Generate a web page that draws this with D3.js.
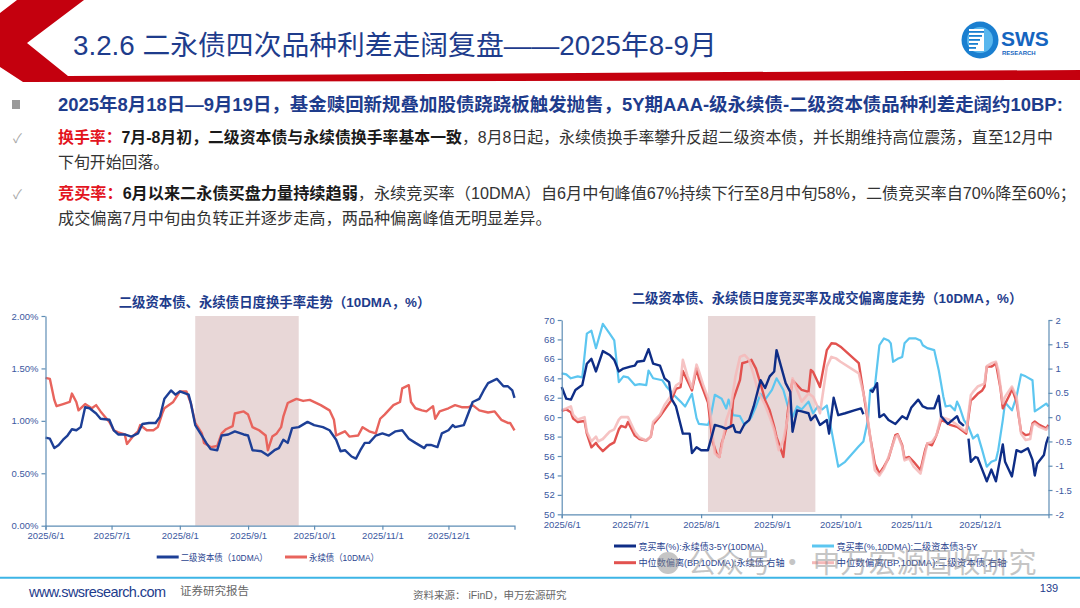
<!DOCTYPE html>
<html>
<head>
<meta charset="utf-8">
<script src="https://cdn.jsdelivr.net/npm/d3@7"></script>
<style>
  html, body { margin: 0; padding: 0; background: #fff; }
  svg { display: block; font-family: "Liberation Sans", "Noto Sans CJK SC", sans-serif; }
</style>
</head>
<body>
<svg id="page" width="1080" height="608"></svg>
<script>
// ---- data (dates are 2025, "M/D") ----
const turnoverNames = ["二级资本债（10DMA）", "永续债（10DMA）"];
const turnoverTicks = [0, 0.5, 1, 1.5, 2];

// 二级资本债 换手率 (10DMA, %)
const turnoverTier2 = [
  ["6/1",0.84],["6/3",0.83],["6/5",0.74],["6/7",0.77],["6/9",0.82],["6/11",0.86],["6/13",0.92],["6/15",0.91],
  ["6/17",0.94],["6/19",1.13],["6/21",1.12],["6/24",1.07],["6/26",1.02],["6/30",1.01],["7/2",0.91],["7/4",0.87],
  ["7/7",0.87],["7/10",0.85],["7/13",0.88],["7/15",0.97],["7/18",0.98],["7/21",0.98],["7/23",1.04],["7/25",1.21],
  ["7/28",1.29],["7/30",1.25],["8/1",1.28],["8/5",1.25],["8/6",1.17],["8/8",0.96],["8/11",0.86],["8/13",0.79],
  ["8/15",0.73],["8/18",0.72],["8/20",0.86],["8/23",0.87],["8/26",0.90],["8/30",0.87],["9/1",0.86],["9/3",0.72],
  ["9/7",0.71],["9/10",0.67],["9/13",0.72],["9/15",0.74],["9/17",0.82],["9/19",0.79],["9/21",0.93],["9/24",0.94],
  ["9/28",0.99],["10/1",0.96],["10/5",0.94],["10/8",0.91],["10/11",0.82],["10/13",0.71],["10/15",0.72],["10/18",0.66],
  ["10/20",0.64],["10/22",0.72],["10/24",0.79],["10/26",0.79],["10/29",0.86],["11/1",0.88],["11/4",0.86],["11/7",0.90],
  ["11/10",0.91],["11/13",0.83],["11/16",0.79],["11/20",0.74],["11/21",0.77],["11/23",0.77],["11/26",0.75],["11/28",0.88],
  ["12/1",0.91],["12/3",0.96],["12/4",0.94],["12/8",0.96],["12/10",1.07],["12/12",1.18],["12/15",1.21],["12/17",1.29],
  ["12/19",1.36],["12/23",1.40],["12/26",1.33],["12/28",1.33],["12/30",1.29],["12/31",1.22]
];

// 永续债 换手率 (10DMA, %)
const turnoverPerp = [
  ["6/1",1.41],["6/3",1.40],["6/5",1.20],["6/6",1.14],["6/9",1.16],["6/12",1.18],["6/13",1.26],["6/15",1.18],
  ["6/16",1.10],["6/19",1.16],["6/22",1.12],["6/24",1.15],["6/26",1.09],["6/28",1.04],["6/30",0.99],["7/2",0.91],
  ["7/4",0.89],["7/7",0.87],["7/8",0.78],["7/11",0.86],["7/13",0.90],["7/14",0.96],["7/17",0.91],["7/20",0.91],
  ["7/22",0.94],["7/24",1.07],["7/25",1.12],["7/29",1.18],["8/1",1.28],["8/4",1.28],["8/6",1.17],["8/8",0.98],
  ["8/11",0.88],["8/12",0.79],["8/15",0.75],["8/18",0.76],["8/20",0.88],["8/22",0.92],["8/25",0.95],["8/26",1.07],
  ["8/30",1.09],["9/1",1.06],["9/3",0.94],["9/6",0.91],["9/9",0.86],["9/10",0.72],["9/12",0.85],["9/14",0.88],
  ["9/16",0.94],["9/17",1.04],["9/19",1.17],["9/21",1.19],["9/23",1.21],["9/26",1.19],["9/29",1.20],["10/4",1.15],
  ["10/8",1.10],["10/10",1.01],["10/11",0.86],["10/13",0.88],["10/15",0.90],["10/17",0.85],["10/21",0.86],["10/23",0.94],
  ["10/26",0.90],["10/29",0.88],["10/31",1.02],["11/2",1.06],["11/6",1.15],["11/9",1.18],["11/10",1.31],["11/13",1.34],
  ["11/14",1.18],["11/16",1.12],["11/19",1.10],["11/21",1.09],["11/24",1.14],["11/25",1.02],["11/27",1.09],["12/1",1.12],
  ["12/4",1.15],["12/7",1.13],["12/10",1.13],["12/12",1.15],["12/15",1.10],["12/19",1.08],["12/22",1.09],["12/25",1.01],
  ["12/28",0.98],["12/29",0.98],["12/31",0.91]
];

const bidNames = [
  "竞买率(%):永续债3-5Y(10DMA)", "竞买率(%,10DMA):二级资本债3-5Y",
  "中位数偏离(BP,10DMA):永续债,右轴", "中位数偏离(BP,10DMA):二级资本债,右轴"
];
const bidTicks = d3.range(50, 71, 2);
const devTicks = [-2, -1.5, -1, -0.5, 0, 0.5, 1, 1.5, 2];

// 竞买率 永续债3-5Y (left axis, %)
const bidPerp = [
  ["6/1",63.1],["6/3",61.9],["6/5",61.8],["6/7",62.8],["6/10",63.3],["6/12",65.5],["6/14",66.0],["6/16",64.7],
  ["6/19",66.8],["6/22",66.4],["6/24",65.9],["6/26",64.7],["6/28",65.0],["7/1",65.2],["7/3",65.3],["7/4",65.7],
  ["7/7",65.8],["7/9",67.0],["7/11",65.5],["7/14",65.3],["7/16",64.0],["7/18",63.6],["7/19",61.9],["7/21",61.1],
  ["7/24",58.3],["7/27",58.3],["7/28",56.3],["7/30",56.9],["8/1",56.6],["8/4",56.6],["8/6",58.3],["8/7",59.2],
  ["8/10",59.0],["8/12",58.8],["8/15",59.2],["8/16",58.5],["8/18",58.4],["8/20",59.3],["8/22",59.7],["8/24",61.1],
  ["8/27",63.8],["8/29",63.0],["8/31",64.2],["9/2",64.7],["9/3",66.9],["9/5",65.2],["9/7",63.5],["9/9",62.6],
  ["9/10",58.5],["9/12",60.7],["9/14",60.6],["9/17",60.4],["9/18",59.7],["9/20",60.2],["9/22",59.2],["9/25",59.7],
  ["9/26",58.3],["9/28",62.0],["9/30",60.2],["10/3",60.4],["10/7",60.7],["10/10",60.9],["10/11",60.3],["10/12",null],
  ["10/14",62.8],["10/15",62.6],["10/17",63.5],["10/18",60.0],["10/20",60.3],["10/22",59.7],["10/25",59.3],["10/28",60.1],
  ["10/30",59.8],["11/1",61.0],["11/4",61.8],["11/6",61.1],["11/8",60.9],["11/11",60.9],["11/13",62.2],["11/14",60.1],
  ["11/17",59.3],["11/21",60.1],["11/22",59.5],["11/24",59.1],["11/25",null],["11/26",57.8],["11/27",55.4],["11/29",55.9],
  ["11/30",55.8],["12/2",54.6],["12/4",53.4],["12/6",54.6],["12/8",53.4],["12/11",57.2],["12/12",55.4],["12/15",53.9],
  ["12/17",56.6],["12/19",56.4],["12/22",56.8],["12/24",55.6],["12/25",54.0],["12/26",55.2],["12/29",56.1],["12/30",57.3],
  ["12/31",58.0]
];

// 竞买率 二级资本债3-5Y (left axis, %)
const bidTier2 = [
  ["6/1",64.5],["6/3",64.4],["6/5",64.0],["6/8",64.2],["6/10",64.1],["6/12",68.6],["6/14",68.9],["6/16",67.1],
  ["6/19",69.6],["6/22",68.6],["6/24",67.9],["6/26",63.6],["6/28",64.2],["6/30",64.1],["7/3",63.3],["7/5",63.4],
  ["7/8",63.3],["7/9",64.8],["7/11",64.0],["7/15",63.8],["7/17",63.1],["7/20",62.3],["7/23",61.6],["7/25",61.1],
  ["7/28",62.4],["7/30",59.9],["7/31",59.3],["8/4",59.2],["8/5",59.8],["8/7",62.3],["8/10",61.9],["8/12",60.9],
  ["8/13",61.8],["8/15",60.2],["8/18",60.1],["8/20",59.2],["8/23",60.0],["8/25",61.1],["8/27",62.4],["8/29",61.8],
  ["9/1",62.8],["9/3",64.0],["9/6",62.8],["9/8",61.1],["9/10",60.0],["9/12",61.1],["9/14",60.8],["9/17",61.6],
  ["9/19",60.4],["9/21",61.1],["9/23",60.8],["9/25",61.2],["9/30",54.9],["10/3",55.4],["10/9",57.0],["10/11",57.5],
  ["10/13",59.7],["10/14",62.8],["10/16",63.1],["10/18",67.4],["10/20",68.1],["10/22",67.9],["10/23",67.6],["10/24",65.7],
  ["10/26",66.0],["10/28",66.2],["10/29",67.6],["10/31",68.1],["11/3",68.1],["11/5",67.9],["11/6",67.4],["11/8",67.1],
  ["11/11",66.9],["11/13",64.8],["11/15",62.1],["11/16",61.1],["11/18",61.2],["11/20",60.7],["11/21",61.6],["11/22",61.1],
  ["11/24",59.7],["11/26",59.0],["11/28",57.8],["11/30",58.2],["12/2",56.6],["12/4",54.9],["12/6",55.4],["12/8",55.6],
  ["12/9",56.6],["12/11",59.7],["12/12",61.5],["12/15",60.7],["12/17",62.1],["12/19",64.4],["12/21",64.2],["12/24",63.8],
  ["12/25",60.6],["12/27",60.9],["12/30",61.4],["12/31",61.1]
];

// 中位数偏离 永续债 (right axis, BP)
const devPerp = [
  ["6/1",0.13],["6/3",0.16],["6/5",0.10],["6/6",-0.03],["6/8",-0.10],["6/11",-0.08],["6/12",-0.34],["6/14",-0.62],
  ["6/16",-0.53],["6/17",-0.60],["6/19",-0.70],["6/22",-0.57],["6/24",-0.52],["6/26",-0.25],["6/27",-0.18],["6/29",-0.21],
  ["6/30",-0.10],["7/3",-0.38],["7/5",-0.45],["7/8",-0.48],["7/10",-0.40],["7/11",-0.15],["7/14",0.02],["7/16",0.15],
  ["7/19",0.35],["7/21",0.58],["7/23",0.62],["7/24",0.95],["7/26",0.75],["7/28",0.55],["7/30",1.00],["7/31",0.80],
  ["8/2",0.55],["8/4",0.30],["8/5",-0.10],["8/6",-0.50],["8/8",-0.78],["8/9",-0.82],["8/10",-0.54],["8/12",-0.23],
  ["8/14",-0.20],["8/15",0.35],["8/18",0.76],["8/19",1.11],["8/21",1.14],["8/23",1.18],["8/25",1.00],["8/27",0.69],
  ["8/29",0.35],["8/31",0.14],["9/2",-0.20],["9/3",-0.41],["9/5",-0.68],["9/6",-0.82],["9/8",0.14],["9/10",0.76],
  ["9/12",0.66],["9/14",0.56],["9/17",0.52],["9/18",0.97],["9/19",0.93],["9/21",0.73],["9/22",0.62],["9/25",1.38],
  ["9/27",1.52],["9/29",1.51],["10/1",1.45],["10/9",1.11],["10/12",0.21],["10/14",-0.41],["10/16",-0.96],["10/18",-1.16],
  ["10/20",-1.02],["10/22",-0.85],["10/25",-0.37],["10/26",-0.35],["10/28",-0.58],["10/29",-0.85],["10/31",-0.82],["11/2",-0.92],
  ["11/5",-1.09],["11/7",-0.68],["11/8",-0.54],["11/10",-0.58],["11/12",-0.37],["11/14",-0.06],["11/16",-0.10],["11/18",-0.16],
  ["11/21",-0.20],["11/24",-0.30],["11/25",-0.34],["11/27",0.35],["11/28",0.38],["11/30",0.48],["12/2",0.55],["12/3",0.63],
  ["12/4",1.04],["12/6",1.04],["12/7",1.07],["12/8",1.11],["12/10",0.59],["12/11",0.18],["12/14",0.46],["12/15",0.59],
  ["12/17",0.32],["12/19",-0.30],["12/21",-0.37],["12/23",-0.35],["12/24",-0.13],["12/25",-0.09],["12/27",-0.16],["12/30",-0.23],
  ["12/31",-0.16]
];

// 中位数偏离 二级资本债 (right axis, BP)
const devTier2 = [
  ["6/1",0.15],["6/3",0.18],["6/5",0.22],["6/6",0.05],["6/8",-0.05],["6/11",0.00],["6/12",-0.30],["6/14",-0.50],
  ["6/16",-0.40],["6/17",-0.50],["6/19",-0.45],["6/22",-0.30],["6/24",-0.25],["6/26",-0.05],["6/27",0.00],["6/29",0.00],
  ["6/30",0.00],["7/3",-0.30],["7/5",-0.42],["7/8",-0.48],["7/10",-0.40],["7/11",-0.10],["7/14",0.05],["7/16",0.25],
  ["7/19",0.45],["7/21",0.65],["7/23",0.72],["7/24",1.18],["7/26",0.85],["7/28",0.60],["7/30",1.08],["7/31",0.95],
  ["8/2",0.65],["8/4",0.40],["8/5",0.10],["8/7",-0.75],["8/9",-0.82],["8/10",-0.61],["8/12",-0.06],["8/14",0.21],
  ["8/16",0.83],["8/18",1.24],["8/20",1.28],["8/22",1.18],["8/24",0.87],["8/26",0.52],["8/29",0.25],["8/31",0.01],
  ["9/2",-0.27],["9/4",-0.68],["9/6",-0.47],["9/8",0.01],["9/10",0.80],["9/12",0.56],["9/14",0.32],["9/17",0.49],
  ["9/19",0.42],["9/21",0.21],["9/22",0.08],["9/25",1.04],["9/27",1.24],["9/29",1.21],["10/1",1.14],["10/9",0.90],
  ["10/12",0.28],["10/14",-0.41],["10/16",-1.09],["10/18",-1.20],["10/20",-1.06],["10/22",-0.82],["10/25",-0.41],["10/26",-0.37],
  ["10/28",-0.61],["10/29",-0.89],["10/31",-0.85],["11/2",-1.02],["11/5",-1.16],["11/7",-0.75],["11/8",-0.54],["11/10",-0.51],
  ["11/12",-0.37],["11/14",0.01],["11/16",-0.03],["11/18",-0.06],["11/21",-0.16],["11/24",-0.27],["11/25",-0.30],["11/27",0.45],
  ["11/28",0.52],["11/30",0.63],["12/3",0.69],["12/4",1.05],["12/6",1.11],["12/8",1.14],["12/9",0.97],["12/11",0.28],
  ["12/12",0.42],["12/15",0.63],["12/17",0.42],["12/19",-0.34],["12/21",-0.47],["12/23",-0.45],["12/24",-0.16],["12/25",-0.13],
  ["12/27",-0.20],["12/30",-0.26],["12/31",-0.20]
];

const monthLabels = ["6/1", "7/1", "8/1", "9/1", "10/1", "11/1", "12/1"];
const turnoverShade = ["8/8", "9/24"];
const bidShade = ["8/4", "9/20"];

// ---- helpers ----
const parseDay = s => d3.timeParse("%Y/%m/%d")("2025/" + s);
const fmtDay = d3.timeFormat("%Y/%-m/%-d");
const xDomain = [parseDay("6/1"), parseDay("12/31")];
const monthTicks = monthLabels.map(parseDay);
const rows = arr => arr.map(([d, v]) => ({ date: parseDay(d), value: v }));

const NAVY = "#1E3C8C";
const AXIS = "#5E8DB5";
const TICKTXT = "#3B58A0";

const svg = d3.select("#page");

// fit a text element to a target width by scaling its font size
function fitWidth(sel, target) {
  const fs = parseFloat(sel.attr("font-size"));
  const w = sel.node().getComputedTextLength();
  const nfs = fs * target / w;
  sel.attr("font-size", nfs.toFixed(2));
  return nfs;
}

function styleAxis(g) {
  g.select(".domain").attr("stroke", AXIS).attr("stroke-width", 1.2);
  g.selectAll(".tick line").attr("stroke", AXIS).attr("stroke-width", 1.2);
  g.selectAll(".tick text")
    .attr("fill", TICKTXT)
    .attr("font-size", 9.5)
    .attr("font-family", "Liberation Sans, sans-serif");
}

// ---- header ----
const header = svg.append("g");
header.append("path")
  .attr("d", d3.line()([[17,0],[84,0],[27,43],[68,76],[1080,70],[1080,80],[23,82],[0,67],[0,13]]) + "Z")
  .attr("fill", "#C4000E");

const title = header.append("text")
  .attr("x", 73).attr("y", 55)
  .attr("font-size", 26)
  .attr("fill", NAVY)
  .text("3.2.6 二永债四次品种利差走阔复盘——2025年8-9月");
fitWidth(title, 644);

// SWS logo
const logo = header.append("g");
logo.append("circle").attr("cx", 980).attr("cy", 40).attr("r", 18.5).attr("fill", "#1A7FD0");
logo.append("circle").attr("cx", 980).attr("cy", 40).attr("r", 13).attr("fill", "#59B7EE");
logo.append("rect").attr("x", 969).attr("y", 29).attr("width", 15).attr("height", 22).attr("fill", "#fff");
d3.range(5).forEach(i => {
  logo.append("rect").attr("x", 969).attr("y", 31 + i * 4).attr("width", 15 - i * 2).attr("height", 1.8).attr("fill", "#1A7FD0");
});
logo.append("text").attr("x", 1001).attr("y", 46).attr("font-size", 21).attr("font-weight", "bold")
  .attr("fill", "#1565C0").attr("font-family", "Liberation Sans, sans-serif").text("SWS");
logo.append("text").attr("x", 1002).attr("y", 54.5).attr("font-size", 6).attr("font-weight", "bold")
  .attr("fill", "#1565C0").attr("font-family", "Liberation Sans, sans-serif").text("RESEARCH");

// ---- summary text ----
const body = svg.append("g");
body.append("rect").attr("x", 12).attr("y", 100).attr("width", 8).attr("height", 9).attr("fill", "#9A9A9A");

const line1 = body.append("text").attr("x", 58).attr("y", 111)
  .attr("font-size", 18).attr("font-weight", "bold").attr("fill", NAVY)
  .text("2025年8月18日—9月19日，基金赎回新规叠加股债跷跷板触发抛售，5Y期AAA-级永续债-二级资本债品种利差走阔约10BP:");
fitWidth(line1, 1006);

function richLine(y, parts) {
  const t = body.append("text").attr("x", 58).attr("y", y).attr("font-size", 16);
  parts.forEach(p => {
    t.append("tspan").attr("fill", p.color).attr("font-weight", p.bold ? "bold" : "normal").text(p.text);
  });
  return t;
}

["✓"].forEach(() => {
  body.append("text").attr("x", 13).attr("y", 143).attr("font-size", 13).attr("fill", "#A8A8A8").text("✓");
  body.append("text").attr("x", 13).attr("y", 199).attr("font-size", 13).attr("fill", "#A8A8A8").text("✓");
});

const l2 = richLine(143, [
  { text: "换手率：", color: "#E3141E", bold: true },
  { text: "7月-8月初，二级资本债与永续债换手率基本一致", color: "#1A1A1A", bold: true },
  { text: "，8月8日起，永续债换手率攀升反超二级资本债，并长期维持高位震荡，直至12月中", color: "#333" }
]);
const fs2 = fitWidth(l2, 996);
richLine(168, [{ text: "下旬开始回落。", color: "#333" }]).attr("font-size", fs2.toFixed(2));

const l4 = richLine(199, [
  { text: "竞买率：", color: "#E3141E", bold: true },
  { text: "6月以来二永债买盘力量持续趋弱", color: "#1A1A1A", bold: true },
  { text: "，永续竞买率（10DMA）自6月中旬峰值67%持续下行至8月中旬58%，二债竞买率自70%降至60%；", color: "#333" }
]);
const fs4 = fitWidth(l4, 1018);
richLine(224, [{ text: "成交偏离7月中旬由负转正并逐步走高，两品种偏离峰值无明显差异。", color: "#333" }]).attr("font-size", fs4.toFixed(2));

// ---- left chart: turnover ----
{
  const g = svg.append("g");
  const x = d3.scaleTime().domain(xDomain).range([45.5, 514.5]);
  const y = d3.scaleLinear().domain([0, 2]).range([525.7, 316]);

  g.append("rect")
    .attr("x", x(parseDay(turnoverShade[0])))
    .attr("width", x(parseDay(turnoverShade[1])) - x(parseDay(turnoverShade[0])))
    .attr("y", y(2)).attr("height", y(0) - y(2))
    .attr("fill", "#E8D7D7");

  const line = d3.line().x(d => x(d.date)).y(d => y(d.value)).defined(d => d.value != null);
  [[turnoverPerp, "#E8645D"], [turnoverTier2, "#1D3F96"]].forEach(([arr, c]) => {
    g.append("path").datum(rows(arr)).attr("d", line)
      .attr("fill", "none").attr("stroke", c).attr("stroke-width", 2.4).attr("stroke-linejoin", "round");
  });

  g.append("g").attr("transform", "translate(45.5,0)")
    .call(d3.axisLeft(y).tickValues(turnoverTicks).tickFormat(d => d.toFixed(2) + "%").tickSize(4).tickSizeOuter(0))
    .call(styleAxis);
  g.append("g").attr("transform", "translate(0,525.7)")
    .call(d3.axisBottom(x).tickValues(monthTicks).tickFormat(fmtDay).tickSize(4).tickSizeOuter(4))
    .call(styleAxis);

  const t = g.append("text").attr("x", 274.5).attr("y", 307).attr("text-anchor", "middle")
    .attr("font-size", 13).attr("font-weight", "bold").attr("fill", NAVY)
    .text("二级资本债、永续债日度换手率走势（10DMA，%）");
  fitWidth(t, 312);

  const legend = [[156.7, "#1D3F96"], [285, "#E8645D"]];
  legend.forEach(([lx, c], i) => {
    g.append("line").attr("x1", lx).attr("x2", lx + 22).attr("y1", 557).attr("y2", 557)
      .attr("stroke", c).attr("stroke-width", 3);
    g.append("text").attr("x", lx + 24).attr("y", 560.5).attr("font-size", 9.5).attr("fill", "#2B4590")
      .attr("textLength", i === 0 ? 87 : 70).attr("lengthAdjust", "spacingAndGlyphs")
      .text(turnoverNames[i]);
  });
}

// ---- right chart: bid ratio & deviation ----
{
  const g = svg.append("g");
  const x = d3.scaleTime().domain(xDomain).range([561.7, 1048.5]);
  const yL = d3.scaleLinear().domain([50, 70]).range([514.3, 320]);
  const yR = d3.scaleLinear().domain([-2, 2]).range([514.3, 320]);

  g.append("rect")
    .attr("x", x(parseDay(bidShade[0])))
    .attr("width", x(parseDay(bidShade[1])) - x(parseDay(bidShade[0])))
    .attr("y", 316).attr("height", 196)
    .attr("fill", "#E8D7D7");

  const lineL = d3.line().x(d => x(d.date)).y(d => yL(d.value)).defined(d => d.value != null);
  const lineR = d3.line().x(d => x(d.date)).y(d => yR(d.value)).defined(d => d.value != null);

  g.append("path").datum(rows(bidTier2)).attr("d", lineL)
    .attr("fill", "none").attr("stroke", "#5CC6F0").attr("stroke-width", 2.2).attr("stroke-linejoin", "round");
  g.append("path").datum(rows(devPerp)).attr("d", lineR)
    .attr("fill", "none").attr("stroke", "#E2524F").attr("stroke-width", 2.4).attr("stroke-linejoin", "round");
  g.append("path").datum(rows(devTier2)).attr("d", lineR)
    .attr("fill", "none").attr("stroke", "#F5B9B9").attr("stroke-opacity", 0.85).attr("stroke-width", 2.6).attr("stroke-linejoin", "round");
  g.append("path").datum(rows(bidPerp)).attr("d", lineL)
    .attr("fill", "none").attr("stroke", "#0E2D86").attr("stroke-width", 2.4).attr("stroke-linejoin", "round");

  g.append("g").attr("transform", "translate(561.7,0)")
    .call(d3.axisLeft(yL).tickValues(bidTicks).tickSize(4).tickSizeOuter(0))
    .call(styleAxis);
  g.append("g").attr("transform", "translate(1048.5,0)")
    .call(d3.axisRight(yR).tickValues(devTicks).tickFormat(d => String(d)).tickSize(4).tickSizeOuter(0))
    .call(styleAxis);
  g.append("g").attr("transform", "translate(0,514.3)")
    .call(d3.axisBottom(x).tickValues(monthTicks).tickFormat(fmtDay).tickSize(4).tickSizeOuter(4))
    .call(styleAxis);

  const t = g.append("text").attr("x", 827).attr("y", 303).attr("text-anchor", "middle")
    .attr("font-size", 13.5).attr("font-weight", "bold").attr("fill", NAVY)
    .text("二级资本债、永续债日度竞买率及成交偏离度走势（10DMA，%）");
  fitWidth(t, 391);

  const items = [
    { x: 614, y: 546, c: "#0E2D86", w: 125 },
    { x: 812, y: 546, c: "#5CC6F0", w: 141 },
    { x: 614, y: 562.7, c: "#E2524F", w: 146 },
    { x: 812, y: 562.7, c: "#F5B9B9", w: 170 }
  ];
  items.forEach((it, i) => {
    g.append("line").attr("x1", it.x).attr("x2", it.x + 22).attr("y1", it.y).attr("y2", it.y)
      .attr("stroke", it.c).attr("stroke-width", 3);
    g.append("text").attr("x", it.x + 24.5).attr("y", it.y + 3.5).attr("font-size", 9.5).attr("fill", "#2B4590")
      .attr("textLength", it.w).attr("lengthAdjust", "spacingAndGlyphs")
      .text(bidNames[i]);
  });
}

// ---- watermark ----
const wm = svg.append("g").attr("opacity", 0.5);
wm.append("circle").attr("cx", 668).attr("cy", 563).attr("r", 11).attr("fill", "#8C8C8C");
wm.append("text").attr("x", 688).attr("y", 573).attr("font-size", 28).attr("fill", "#8C8C8C")
  .attr("font-family", "Noto Sans CJK SC, sans-serif").text("公众号 · 申万宏源固收研究");

// ---- footer ----
const foot = svg.append("g");
foot.append("line").attr("x1", 0).attr("x2", 1080).attr("y1", 577.7).attr("y2", 577.7)
  .attr("stroke", "#3DB5E6").attr("stroke-width", 2);
foot.append("text").attr("x", 29).attr("y", 597).attr("font-size", 14.5).attr("fill", NAVY)
  .attr("textLength", 137).text("www.swsresearch.com");
foot.append("text").attr("x", 180).attr("y", 594.5).attr("font-size", 11.5).attr("fill", "#666")
  .text("证券研究报告");
foot.append("text").attr("x", 413).attr("y", 598.5).attr("font-size", 10.5).attr("fill", "#666")
  .text("资料来源： iFinD，申万宏源研究");
foot.append("text").attr("x", 1049).attr("y", 591.5).attr("text-anchor", "middle").attr("font-size", 11).attr("fill", NAVY)
  .text("139");
</script>
</body>
</html>
